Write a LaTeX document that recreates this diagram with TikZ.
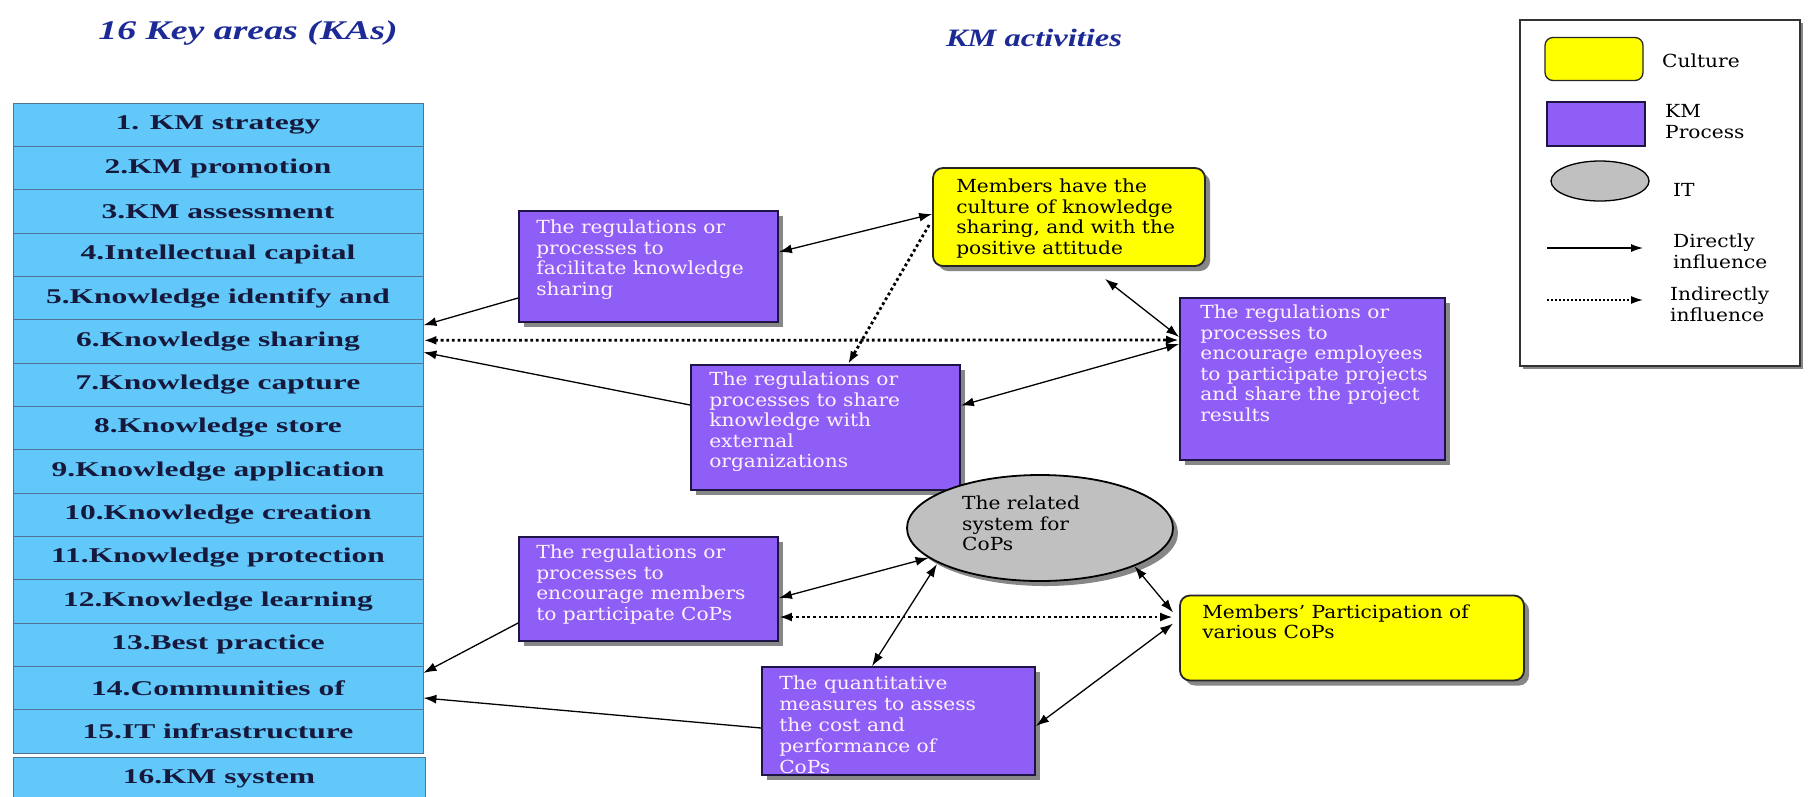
\documentclass[tikz,border=0pt]{standalone}
\usepackage{fontspec}
\setmainfont{DejaVu Serif}
\newfontfamily\kafont[FakeStretch=1.5]{Liberation Serif}
\newfontfamily\headfont[FakeStretch=1.4]{Liberation Serif}
\newfontfamily\subheadfont[FakeStretch=1.3]{Liberation Serif}
\newfontfamily\boxfont[FakeStretch=1.12]{DejaVu Serif}
\usetikzlibrary{arrows.meta,shapes.geometric,shadows}

\definecolor{kablue}{RGB}{98,200,250}
\definecolor{kaline}{RGB}{80,115,150}
\definecolor{katext}{RGB}{22,24,60}
\definecolor{headblue}{RGB}{28,42,150}
\definecolor{procfill}{RGB}{142,94,247}
\definecolor{procline}{RGB}{30,20,70}
\definecolor{cultfill}{RGB}{255,255,0}
\definecolor{itfill}{RGB}{192,192,192}
\definecolor{boxtext}{RGB}{255,242,250}
\definecolor{shadowgray}{RGB}{135,135,135}

\tikzset{
  ka/.style={draw=kaline, line width=0.8pt, fill=kablue, minimum width=410pt,
    minimum height=43.33pt, inner sep=0pt, text=katext,
    font=\kafont\bfseries\fontsize{21}{24}\selectfont},
  head/.style={text=headblue, font=\headfont\bfseries\itshape\fontsize{27}{30}\selectfont},
  subhead/.style={text=headblue, font=\subheadfont\bfseries\itshape\fontsize{25}{28}\selectfont},
  boxshadow/.style={drop shadow={shadow xshift=5pt, shadow yshift=-5pt,
    fill=shadowgray, opacity=1}},
  proc/.style={draw=procline, line width=1.8pt, fill=procfill, inner sep=0pt, boxshadow},
  cult/.style={draw=black!85, line width=1.8pt, fill=cultfill, rounded corners=10pt,
    inner sep=0pt, boxshadow},
  itnode/.style={ellipse, draw=black, line width=1.8pt, fill=itfill, inner sep=0pt, boxshadow},
  ptext/.style={anchor=north west, inner sep=0pt, align=left, text=boxtext,
    font=\boxfont\fontsize{18}{20.5}\selectfont},
  ctext/.style={ptext, text=black},
  ltext/.style={anchor=west, inner sep=0pt, align=left, text=black,
    font=\boxfont\fontsize{18}{21}\selectfont},
  tip/.tip={Latex[length=13pt,width=9pt]},
  one/.style={line width=1.3pt, -tip},
  two/.style={line width=1.3pt, tip-tip},
  dotone/.style={line width=2.8pt, dash pattern=on 2.8pt off 2.8pt, -tip},
  dottwo/.style={line width=2.8pt, dash pattern=on 2.8pt off 2.8pt, tip-tip},
}

\begin{document}
\begin{tikzpicture}[x=1pt,y=-1pt]
\useasboundingbox (0,0) rectangle (1814,796);
\fill[white] (0,0) rectangle (1814,796);
\clip (0,0) rectangle (1814,796);

% headings
\node[head] (kahead) at (248,33) {16 Key areas (KAs)};
\node[subhead] (kmhead) at (1034,38) {KM activities};

% the sixteen key areas
\foreach \i/\t in {1/{1. KM strategy},2/{2.KM promotion},3/{3.KM assessment},
  4/{4.Intellectual capital},5/{5.Knowledge identify and},6/{6.Knowledge sharing},
  7/{7.Knowledge capture},8/{8.Knowledge store},9/{9.Knowledge application},
  10/{10.Knowledge creation},11/{11.Knowledge protection},12/{12.Knowledge learning},
  13/{13.Best practice},14/{14.Communities of},15/{15.IT infrastructure}}{
  \node[ka] (k\i) at (218,{103+(\i-0.5)*43.33}) {\t};
}
\node[ka, minimum width=412pt] (k16) at (219,778.7) {16.KM system};

% KM processes
\node[proc, minimum width=259pt, minimum height=111pt] (A) at (648.5,266.5) {};
\node[ptext] (At) at ([shift={(18,10)}]A.north west)
  {The regulations or\\processes to\\facilitate knowledge\\sharing};

\node[proc, minimum width=269pt, minimum height=125pt] (B) at (825.5,427.5) {};
\node[ptext] (Bt) at ([shift={(19,8)}]B.north west)
  {The regulations or\\processes to share\\knowledge with\\external\\organizations};

\node[proc, minimum width=265pt, minimum height=162pt] (C) at (1312.5,379) {};
\node[ptext] (Ct) at ([shift={(21,8)}]C.north west)
  {The regulations or\\processes to\\encourage employees\\to participate projects\\and share the project\\results};

\node[proc, minimum width=259pt, minimum height=104pt] (D) at (648.5,589) {};
\node[ptext] (Dt) at ([shift={(18,9)}]D.north west)
  {The regulations or\\processes to\\encourage members\\to participate CoPs};

\node[proc, minimum width=273pt, minimum height=108pt] (E) at (898.5,721) {};
\node[ptext, font=\boxfont\fontsize{18}{20.8}\selectfont] (Et) at ([shift={(18,10)}]E.north west)
  {The quantitative\\measures to assess\\the cost and\\performance of\\CoPs};

% culture
\node[cult, minimum width=272pt, minimum height=98pt] (Y1) at (1069,217) {};
\node[ctext] (Y1t) at ([shift={(24,12)}]Y1.north west)
  {Members have the\\culture of knowledge\\sharing, and with the\\positive attitude};

\node[cult, minimum width=344pt, minimum height=85pt] (Y2) at (1352,638) {};
\node[ctext] (Y2t) at ([shift={(23,10)}]Y2.north west)
  {Members’ Participation of\\various CoPs};

% IT
\node[itnode, minimum width=266pt, minimum height=106pt] (L) at (1040,528) {};
\node[ctext] (Lt) at (962,496) {The related\\system for\\CoPs};

% influences
\draw[one] ([yshift=-31.5pt]A.west) -- ([yshift=16pt]k6.east);
\draw[dottwo] ([yshift=1pt]k6.east) -- ([yshift=39pt]C.west);
\draw[one] ([yshift=22.5pt]B.west) -- ([yshift=-11pt]k6.east);
\draw[two] ([yshift=14.5pt]A.east) -- ([yshift=3pt]Y1.west);
\draw[dotone] ([xshift=-3pt,yshift=-8pt]Y1.west) -- ([xshift=22.5pt]B.north);
\draw[two] ([xshift=36pt,yshift=-12pt]Y1.south) -- ([yshift=42pt]C.west);
\draw[two] ([yshift=35pt]C.west) -- ([yshift=22pt]B.east);
\draw[one] ([yshift=-34pt]D.west) -- ([yshift=15pt]k14.east);
\draw[one] ([yshift=-7pt]E.west) -- ([yshift=-10pt]k14.east);
\draw[two] ([yshift=-9pt]D.east) -- (L.195);
\draw[two] ([xshift=-26.5pt]E.north) -- ([shift={(-103,36)}]L.center);
\draw[dottwo] ([yshift=-28pt]D.east) -- ([xshift=-6pt,yshift=21pt]Y2.west);
\draw[two] (L.338) -- ([xshift=-6pt,yshift=25.5pt]Y2.west);
\draw[two] ([yshift=-5pt]E.east) -- ([xshift=-6pt,yshift=14.5pt]Y2.west);

% legend
\node[draw=black!80, line width=1.3pt, fill=white, minimum width=280pt,
  minimum height=346pt, inner sep=0pt,
  drop shadow={shadow xshift=3pt, shadow yshift=-3pt, fill=shadowgray, opacity=1}]
  (legend) at (1660,193) {};
\node[draw=black!85, line width=1.3pt, fill=cultfill, rounded corners=8pt,
  minimum width=98pt, minimum height=43pt] (lgC) at (1594,59) {};
\node[ltext] (lgCt) at (1662,61) {Culture};
\node[draw=procline, line width=1.3pt, fill=procfill,
  minimum width=98pt, minimum height=44pt] (lgP) at (1596,124) {};
\node[ltext] (lgPt) at (1665,122) {KM\\Process};
\node[ellipse, draw=black, line width=1.3pt, fill=itfill,
  minimum width=98pt, minimum height=40pt] (lgI) at (1600,181) {};
\node[ltext] (lgIt) at (1673,190) {IT};
\coordinate (ld1) at (1547,248);
\coordinate (ld2) at (1643,248);
\draw[line width=1.2pt, -{Latex[length=12pt,width=8pt]}] (ld1) -- (ld2);
\node[ltext] (lgDt) at (1673,251) {Directly\\influence};
\coordinate (li1) at (1547,300);
\coordinate (li2) at (1643,300);
\draw[line width=1.6pt, dash pattern=on 2pt off 2pt, -{Latex[length=12pt,width=8pt]}] (li1) -- (li2);
\node[ltext] (lgIt2) at (1670,304) {Indirectly\\influence};
\end{tikzpicture}
\end{document}
